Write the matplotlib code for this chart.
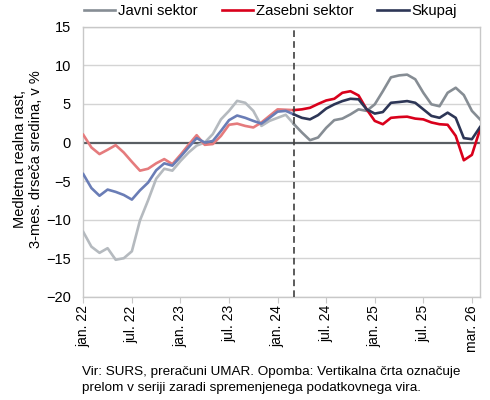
import matplotlib
matplotlib.use("Agg")
import matplotlib.pyplot as plt
import numpy as np

plt.rcParams['font.family'] = ['Liberation Sans', 'DejaVu Sans']

# month index 0 = jan. 22
javni_pre = [-11.6, -13.5, -14.3, -13.7, -15.2, -15.0, -14.1, -10.1, -7.5, -4.7,
             -3.4, -3.65, -2.4, -1.3, -0.4, 0.0, 1.1, 3.0, 4.1, 5.4,
             5.15, 4.1, 2.15, 2.8, 3.2, 3.6, 2.4]
javni_post = [2.4, 1.3, 0.3, 0.65, 1.9, 2.9, 3.1, 3.65, 4.3, 4.1,
              4.95, 6.65, 8.45, 8.7, 8.8, 8.2, 6.45, 4.95, 4.7, 6.45,
              7.1, 6.15, 4.1, 3.0]
zasebni_pre = [1.0, -0.64, -1.5, -0.94, -0.34, -1.3, -2.5, -3.65, -3.4, -2.7,
               -2.15, -2.8, -1.6, -0.3, 0.95, -0.3, -0.2, 0.86, 2.3, 2.45,
               2.15, 1.95, 2.6, 3.45, 4.3, 4.25, 4.2]
zasebni_post = [4.2, 4.3, 4.5, 5.0, 5.45, 5.67, 6.45, 6.65, 6.1, 4.3,
                2.8, 2.37, 3.2, 3.3, 3.35, 3.1, 3.0, 2.6, 2.37, 2.3,
                0.86, -2.3, -1.6, 1.7]
skupaj_pre = [-4.1, -5.9, -6.9, -6.1, -6.4, -6.8, -7.4, -6.2, -5.2, -3.6,
              -2.7, -3.0, -1.85, -0.64, 0.57, 0.0, 0.2, 1.5, 2.9, 3.5,
              3.2, 2.8, 2.45, 3.2, 4.0, 4.1, 3.65]
skupaj_post = [3.65, 3.2, 3.0, 3.55, 4.4, 4.95, 5.37, 5.67, 5.6, 4.3,
               3.75, 3.95, 5.15, 5.25, 5.37, 5.15, 4.3, 3.45, 3.2, 3.87,
               3.2, 0.57, 0.43, 2.0]

break_idx = 26
tick_pos = [0, 6, 12, 18, 24, 30, 36, 42, 48]
tick_labels = ['jan. 22', 'jul. 22', 'jan. 23', 'jul. 23', 'jan. 24',
               'jul. 24', 'jan. 25', 'jul. 25', 'mar. 26']

x_pre = np.arange(len(javni_pre))
x_post = np.arange(break_idx, break_idx + len(javni_post))

fig = plt.figure(figsize=(4.9, 4.0), dpi=100)
ax = fig.add_axes([0.170, 0.258, 0.8096, 0.675])

# grid
for yv in range(-20, 16, 5):
    if yv == 0:
        continue
    ax.axhline(yv, color='#d4d4d4', lw=1.0, zorder=1)
ax.axhline(0, color='#595e63', lw=1.6, zorder=2)

lw = 1.9
ax.plot(x_pre, javni_pre, color='#b5babf', lw=lw, zorder=3)
ax.plot(x_pre, zasebni_pre, color='#e57b7d', lw=lw, zorder=3)
ax.plot(x_pre, skupaj_pre, color='#6a7db6', lw=lw, zorder=3)
ax.plot(x_post, javni_post, color='#868d94', lw=lw, zorder=4, label='Javni sektor')
ax.plot(x_post, zasebni_post, color='#d9001b', lw=lw, zorder=4, label='Zasebni sektor')
ax.plot(x_post, skupaj_post, color='#2d3656', lw=lw, zorder=4, label='Skupaj')

ax.axvline(break_idx, color='#404040', lw=1.2, ls=(0, (4, 2.5)), zorder=5)

ax.set_xlim(0, 49)
ax.set_ylim(-20, 15)
ax.set_yticks(range(-20, 16, 5))
ax.set_xticks(tick_pos)
ax.set_xticklabels(tick_labels, rotation=90, fontsize=10)
ax.tick_params(axis='y', length=0, pad=9, labelsize=10.5)
ax.tick_params(axis='x', length=4, color='#c8c8c8', pad=2)

for s in ['left', 'bottom', 'top', 'right']:
    ax.spines[s].set_color('#c8c8c8')
    ax.spines[s].set_linewidth(1.0)

leg = ax.legend(loc='lower left', bbox_to_anchor=(-0.005, 1.02), ncol=3,
                frameon=False, fontsize=10.7, handlelength=2.1,
                handletextpad=0.2, columnspacing=1.6, borderaxespad=0.1,
                borderpad=0.1)

fig.text(28 / 490, 1 - 159 / 400, 'Medletna realna rast,\n3-mes. drseča sredina, v %',
         rotation=90, ha='center', va='center', multialignment='center',
         fontsize=10.5, linespacing=1.25)

fig.text(82 / 490, 1 - 366 / 400,
         'Vir: SURS, preračuni UMAR. Opomba: Vertikalna črta označuje\n'
         'prelom v seriji zaradi spremenjenega podatkovnega vira.',
         ha='left', va='top', fontsize=9.7, linespacing=1.4)

fig.savefig('out.png', dpi=100)
